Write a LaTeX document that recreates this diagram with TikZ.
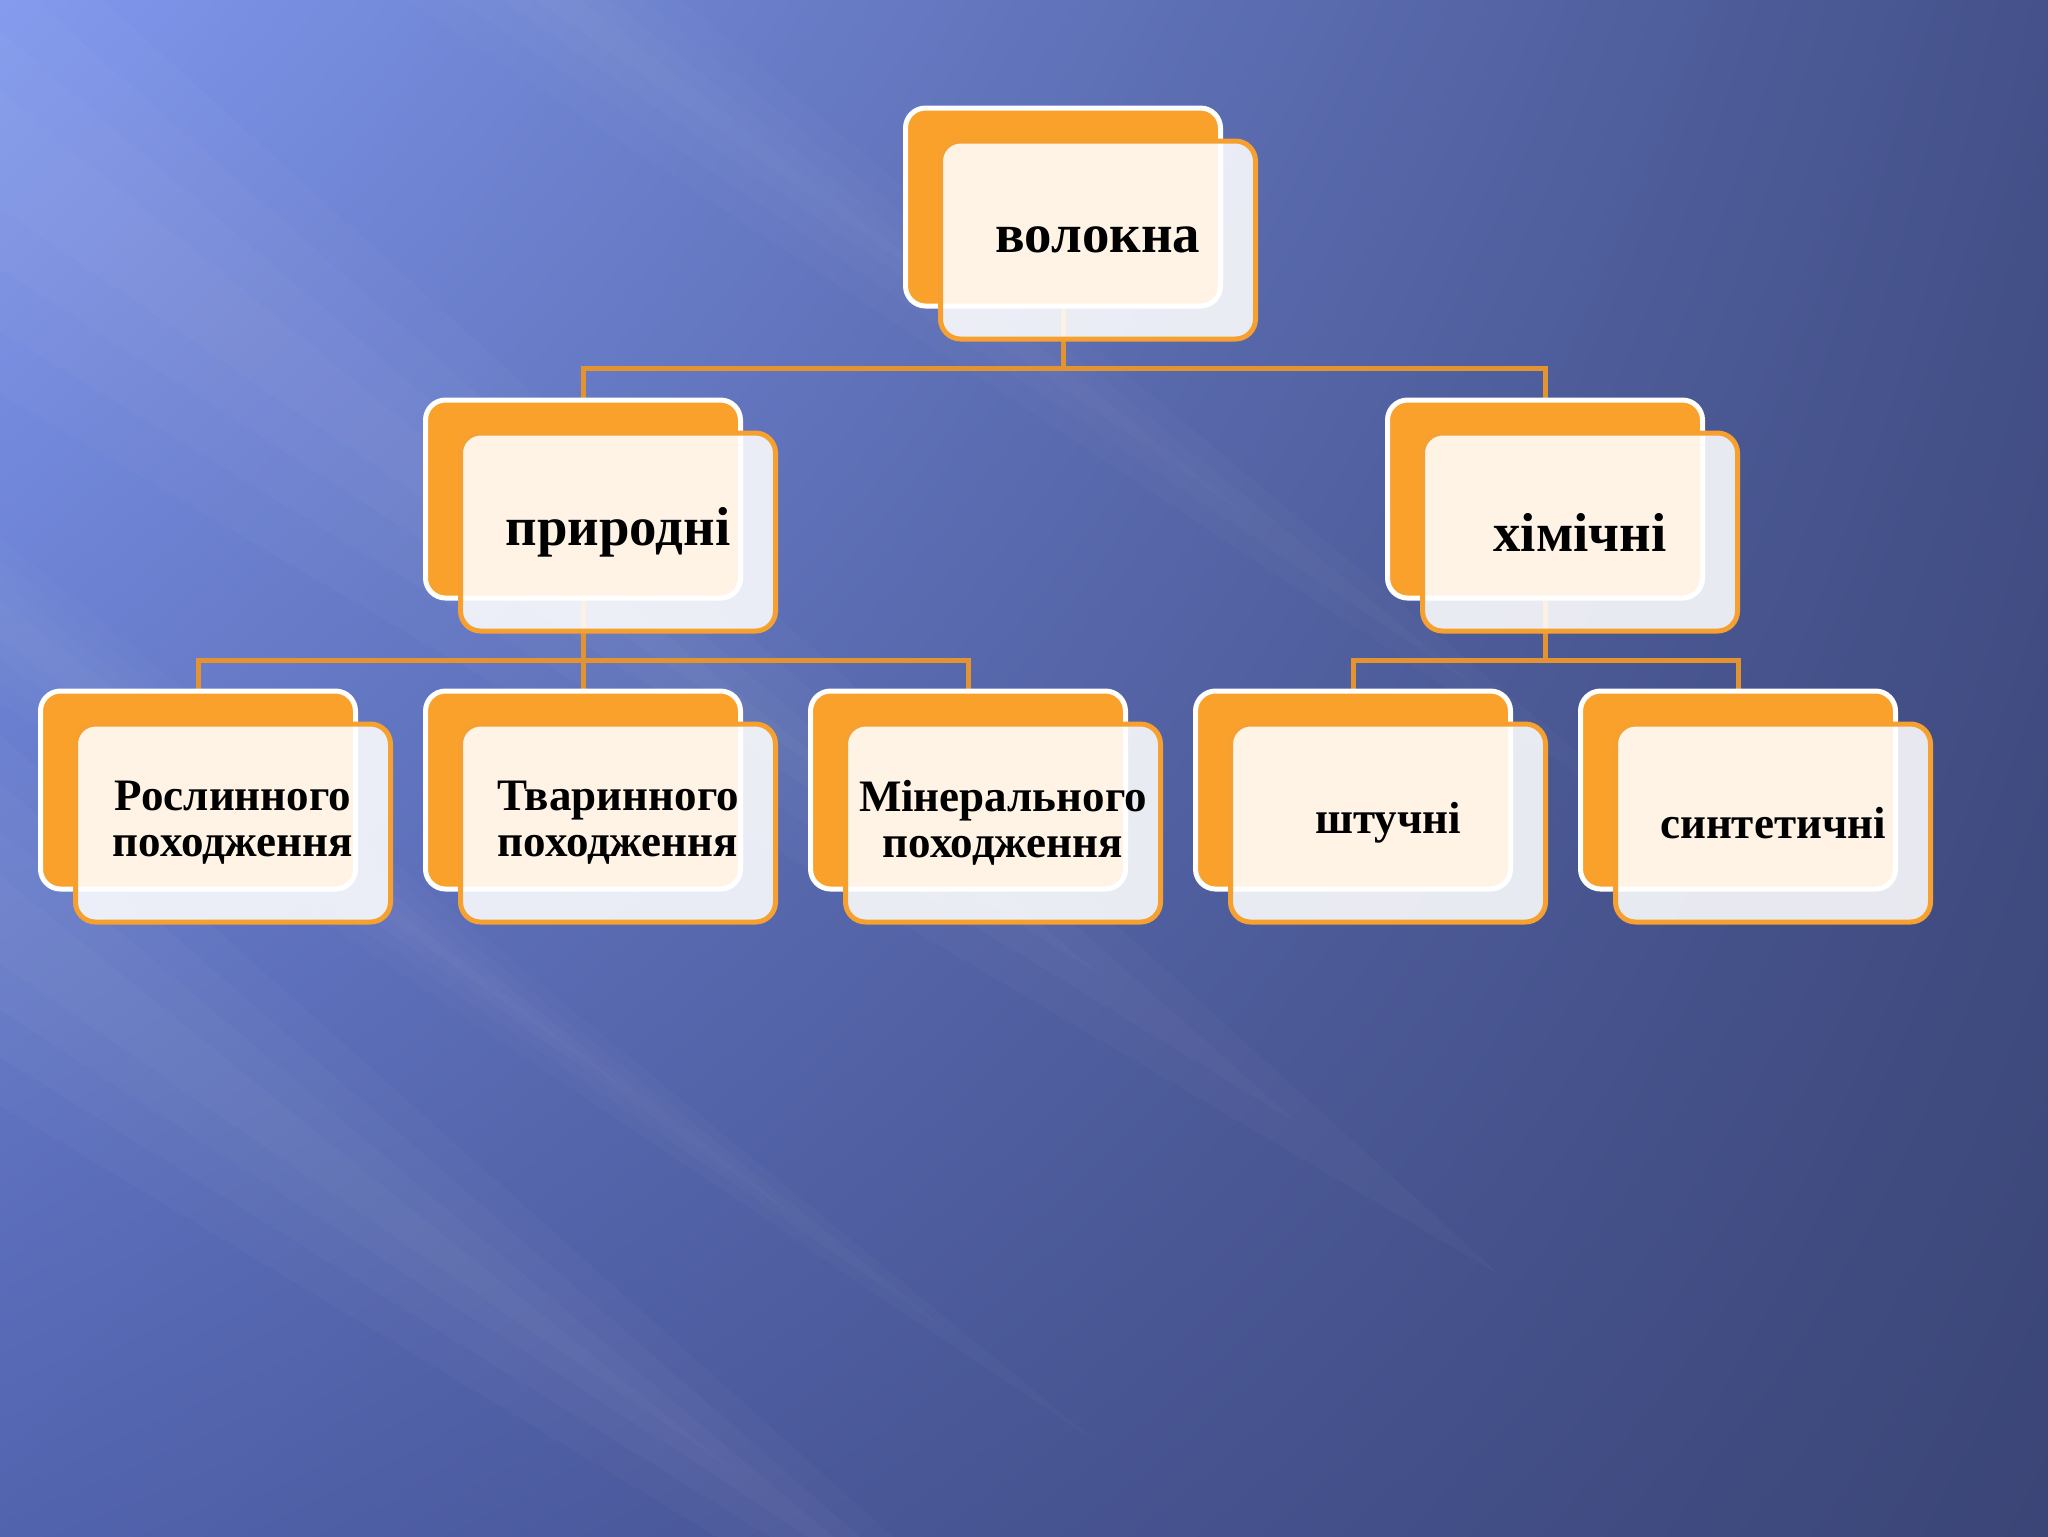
\documentclass[tikz,border=0pt]{standalone}
\usepackage{fontspec}
\setmainfont{Liberation Serif}
\usetikzlibrary{positioning,shadings}
\pgfdeclarelayer{bg}
\pgfdeclarelayer{lines}
\pgfsetlayers{bg,lines,main}
\definecolor{bgTL}{HTML}{8098EE}
\definecolor{bgTR}{HTML}{44518A}
\definecolor{bgBL}{HTML}{5263AE}
\definecolor{bgBR}{HTML}{3B4576}
\definecolor{boxorange}{HTML}{F9A12A}
\definecolor{boxedge}{HTML}{F6A030}
\definecolor{lineorange}{HTML}{E39330}
\begin{document}
\begin{tikzpicture}[x=0.1mm,y=-0.1mm,
    backbox/.style={draw=white,line width=0.5mm,fill=boxorange,rounded corners=2mm,
      minimum width=31.5mm,minimum height=19.8mm},
    frontbox/.style={draw=boxedge,line width=0.5mm,fill=white,fill opacity=0.88,text opacity=1,
      rounded corners=2mm,minimum width=31.5mm,minimum height=19.8mm,align=center,
      font=\bfseries\fontsize{15.6}{16}\selectfont},
    small/.style={font=\bfseries\fontsize{12.8}{13.1}\selectfont},
    conn/.style={draw=lineorange,line width=0.5mm}]
  \useasboundingbox (0,0) rectangle (2048,1536);

  % background
  \begin{pgfonlayer}{bg}
    \shade[upper left=bgTL,upper right=bgTR,lower left=bgBL,lower right=bgBR] (0,0) rectangle (2048,1536);
    \begin{scope}
      \clip (0,0) rectangle (2048,1536);
      % light streaks, fading out to the right
      \foreach \y/\w/\e/\o in {150/260/1500/0.025, 920/200/1250/0.025, 620/90/1100/0.018, -420/160/1700/0.018}
        \foreach \s in {0.25,0.5,0.75,1}
          \fill[white,opacity=\o] (-100,\y-75-\s*\w)
            -- ({-100+(\e+100)*(0.5+0.5*\s)},{\y-75+0.75*(\e+100)*(0.5+0.5*\s)})
            -- (-100,\y-75+\s*\w) -- cycle;
    \end{scope}
  \end{pgfonlayer}

  % top
  \node[backbox] (volokna-b) at (1063,207) {};
  \node[frontbox] (volokna) at ([shift={(35,33)}]volokna-b.center) {волокна};

  % second row
  \node[backbox] (pryrodni-b) at (583,499) {};
  \node[frontbox] (pryrodni) at ([shift={(35,33)}]pryrodni-b.center) {природні};
  \node[backbox] (khimichni-b) at (1545,499) {};
  \node[frontbox] (khimichni) at ([shift={(35,33)}]khimichni-b.center) {хімічні};

  % third row
  \node[backbox] (roslyn-b) at (198,790) {};
  \node[frontbox,small] (roslyn) at ([shift={(35,33)}]roslyn-b.center) {Рослинного\\походження};
  \node[backbox] (tvaryn-b) at (583,790) {};
  \node[frontbox,small] (tvaryn) at ([shift={(35,33)}]tvaryn-b.center) {Тваринного\\походження};
  \node[backbox] (mineral-b) at (968,790) {};
  \node[frontbox,small] (mineral) at ([shift={(35,33)}]mineral-b.center) {Мінерального\\походження};
  \node[backbox] (shtuchni-b) at (1353,790) {};
  \node[frontbox,small] (shtuchni) at ([shift={(35,33)}]shtuchni-b.center) {штучні};
  \node[backbox] (syntet-b) at (1738,790) {};
  \node[frontbox,small] (syntet) at ([shift={(35,33)}]syntet-b.center) {синтетичні};

  % connectors
  \begin{pgfonlayer}{lines}
    \coordinate (bus1) at (1063,368);
    \coordinate (bus2) at (583,660);
    \coordinate (bus3) at (1545,660);
    \draw[conn] (volokna-b.center) -- (bus1);
    \draw[conn] (pryrodni-b.north) |- (bus1) -| (khimichni-b.north);
    \draw[conn] (pryrodni-b.center) -- (bus2);
    \draw[conn] (roslyn-b.north) |- (bus2) -| (mineral-b.north);
    \draw[conn] (bus2) -- (tvaryn-b.north);
    \draw[conn] (khimichni-b.center) -- (bus3);
    \draw[conn] (shtuchni-b.north) |- (bus3) -| (syntet-b.north);
  \end{pgfonlayer}
\end{tikzpicture}
\end{document}
